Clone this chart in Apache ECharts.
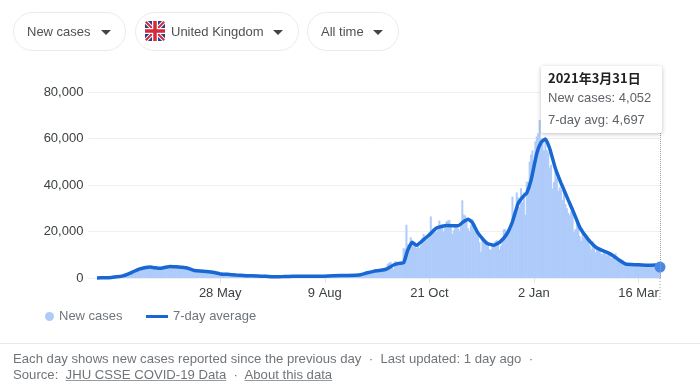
<!DOCTYPE html>
<html>
<head>
<meta charset="utf-8">
<title>New cases - United Kingdom</title>
<script src="https://cdn.jsdelivr.net/npm/echarts@6/dist/echarts.min.js"></script>
<style>
html, body { margin: 0; padding: 0; background: #fff; }
body { width: 700px; height: 389px; position: relative; overflow: hidden; font-family: "Liberation Sans", Arial, sans-serif; }
#chart { position: absolute; left: 0; top: 0; width: 700px; height: 389px; }
.pill { position: absolute; top: 12px; height: 37px; line-height: 37px; border: 1px solid #e8eaed; border-radius: 20px; font-size: 13px; color: #4d5156; box-sizing: content-box; }
.pill span { position: absolute; top: 0; white-space: nowrap; }
.pill i { position: absolute; top: 17px; width: 0; height: 0; border-left: 5px solid transparent; border-right: 5px solid transparent; border-top: 5px solid #444; }
.pill svg { position: absolute; left: 9px; top: 8px; border-radius: 3px; }
#footer { position: absolute; left: 0; top: 343px; width: 700px; border-top: 1px solid #e8eaed; font-size: 13.15px; color: #70757a; line-height: 16px; padding: 7px 0 0 13px; box-sizing: border-box; white-space: nowrap; }
#footer u { color: #70757a; text-decoration-color: #999; }
</style>
</head>
<body>
<div id="chart"></div>
<div class="pill" style="left:13px;width:111px"><span style="left:13px">New cases</span><i style="left:87px"></i></div>
<div class="pill" style="left:135px;width:162px">
	<svg width="20" height="20" viewBox="0 0 40 40">
		<rect width="40" height="40" fill="#27408b"/>
		<path d="M0 0L40 40M40 0L0 40" stroke="#fff" stroke-width="8"/>
		<path d="M0 0L40 40M40 0L0 40" stroke="#d8283c" stroke-width="4"/>
		<path d="M20 0V40M0 20H40" stroke="#fff" stroke-width="12"/>
		<path d="M20 0V40M0 20H40" stroke="#d8283c" stroke-width="7"/>
	</svg>
	<span style="left:35px">United Kingdom</span><i style="left:137px"></i>
</div>
<div class="pill" style="left:307px;width:90px"><span style="left:13px">All time</span><i style="left:65px"></i></div>
<div id="footer">Each day shows new cases reported since the previous day &nbsp;·&nbsp; Last updated: 1 day ago &nbsp;·<br>Source: &nbsp;<u>JHU CSSE COVID-19 Data</u> &nbsp;·&nbsp; <u>About this data</u></div>
<script>
// day 0 is 3 Mar 2020, day 393 is 31 Mar 2021
var tickDays = [86, 159, 232, 305, 378];
var tickLabels = ['28 May', '9 Aug', '21 Oct', '2 Jan', '16 Mar'];
var yTicks = [0, 20000, 40000, 60000, 80000];

var newCases = [
	12, 36, 29, 48, 46, 47, 65, 50, 53, 134,
	208, 342, 251, 152, 407, 676, 643, 714, 900, 665,
	967, 1200, 1400, 1700, 2100, 2300, 2500, 2700, 3000, 3400,
	3800, 4000, 4100, 4400, 4300, 4200, 4600, 4500, 4700, 4600,
	4300, 4000, 4300, 4100, 4000, 4200, 4400, 4100, 4300, 4500,
	4600, 4800, 4700, 4500, 4500, 4400, 4300, 4600, 4500, 4300,
	4200, 4000, 4100, 4200, 4000, 3700, 3400, 3200, 3100, 3000,
	2900, 2900, 2950, 2900, 2900, 2600, 2700, 2800, 2400, 2400,
	2500, 2400, 2200, 1600, 1700, 1800, 1700, 1800, 1800, 1600,
	1450, 1500, 1500, 1400, 1400, 1350, 1250, 1150, 1300, 1000,
	1100, 1200, 1150, 1100, 950, 1000, 1000, 1000, 950, 950,
	850, 850, 900, 850, 800, 650, 750, 800, 700, 650,
	600, 500, 500, 550, 480, 350, 520, 600, 500, 600,
	650, 530, 598, 538, 401, 687, 463, 668, 642, 720,
	720, 687, 700, 580, 445, 560, 700, 720, 760, 760,
	743, 758, 714, 638, 871, 950, 846, 758, 1000, 816,
	1050, 670, 1009, 950, 1050, 1040, 713, 1089, 1100, 812,
	1033, 1041, 1150, 1250, 1250, 1184, 1276, 1048, 1300, 1295,
	1100, 1300, 1400, 1500, 1500, 1700, 2100, 2000, 2200, 2600,
	2900, 3000, 2700, 2600, 3100, 3400, 3300, 3600, 3700, 3500,
	4400, 4300, 4900, 6100, 6600, 6900, 5600, 4000, 7100, 7100,
	6900, 6900, 7100, 6900, 12800, 12600, 22900, 14500, 14100, 17500,
	13900, 15100, 13900, 12900, 13800, 13000, 14100, 17200, 18900, 17200,
	16200, 16900, 19700, 26500, 21300, 20500, 21000, 19700, 20900, 24700,
	23000, 22900, 20000, 22800, 24400, 24700, 25000, 21900, 18900, 20500,
	22900, 22800, 21300, 20400, 22900, 33400, 27300, 26900, 24900, 21400,
	20200, 22900, 25300, 22900, 20300, 20200, 18700, 15400, 11300, 17600,
	16000, 14900, 16000, 14700, 12300, 12200, 13400, 14000, 15800, 16300,
	14900, 12300, 14000, 16600, 20900, 21000, 20100, 18400, 20000, 21000,
	35000, 27000, 28500, 36800, 34700, 30500, 38600, 32700, 36800, 27200,
	41400, 41400, 50000, 53100, 54900, 50500, 58800, 60900, 62300, 68000,
	60000, 59900, 54900, 59000, 55000, 54000, 47500, 48700, 38500, 41300,
	46000, 43000, 37500, 39000, 37900, 33500, 38600, 31800, 30000, 28000,
	27000, 28700, 29000, 20000, 21000, 23500, 22000, 18000, 16000, 19500,
	17500, 19100, 18000, 15800, 14000, 12300, 15800, 13500, 11000, 12700,
	13500, 12000, 10500, 10300, 10900, 10400, 9700, 11000, 9800, 8500,
	8700, 9900, 10600, 9300, 7400, 7500, 7800, 7600, 6400, 5400,
	5700, 5600, 6000, 6100, 5500, 5200, 5900, 5800, 5500, 5100,
	6000, 5700, 5300, 4800, 5400, 6000, 5800, 5600, 5300, 4900,
	5400, 4700, 4600, 4052
];

// 7-day average at the days where it bends
var avgDays = [
	0, 6, 10, 14, 18, 22, 26, 30, 34, 37, 40, 44, 47, 51, 55, 59, 63, 68, 74, 81,
	86, 91, 97, 104, 112, 118, 123, 130, 137, 144, 151, 158, 165, 175, 184, 188, 193, 198, 202, 207,
	211, 214, 217, 220, 223, 228, 232, 237, 244, 252, 256, 259, 262, 266, 272, 277, 281, 286, 290, 294,
	298, 300, 303, 307, 310, 313, 316, 320, 324, 329, 333, 337, 343, 349, 358, 364, 369, 377, 384, 390, 393
];
var avgValues = [
	50, 130, 250, 500, 900, 1800, 2900, 3900, 4500, 4720, 4450, 4150, 4500, 4950, 4800, 4600, 4300, 3200, 2950, 2450,
	1750, 1570, 1300, 1000, 850, 700, 520, 600, 715, 720, 720, 800, 1000, 1100, 1430, 2145, 2860, 3300, 3860, 5600,
	6300, 6500, 12100, 15400, 14100, 16500, 18600, 21500, 22600, 22450, 24300, 25300, 23900, 19300, 15000, 14100, 15300, 18800, 24200, 32100,
	35400, 36500, 42100, 53600, 58300, 59800, 55700, 47100, 40700, 33500, 27800, 21800, 16500, 12900, 10500, 7900, 6000, 5700, 5450, 5600, 4697
];

var lastDay = avgDays.length - 1;
var barData = newCases.map(function (v, i) {
	return [i, v];
});
var lineData = avgDays.map(function (d, i) {
	return [d, avgValues[i]];
});
lineData[lastDay] = {
	value: lineData[lastDay],
	symbol: 'circle',
	symbolSize: 10,
	itemStyle: { color: '#4a86e8' }
};

var myChart = echarts.init(document.getElementById('chart'));
myChart.setOption({
	animation: false,
	textStyle: { fontFamily: '"Liberation Sans", Arial, sans-serif' },
	grid: { left: 88.4, right: 40, top: 92, bottom: 111 },
	legend: [{
		data: [{ name: 'New cases', icon: 'circle' }],
		left: 45,
		top: 310,
		padding: 0,
		itemWidth: 9,
		itemHeight: 9,
		selectedMode: false,
		textStyle: { color: '#70757a', fontSize: 13 }
	}, {
		data: [{ name: '7-day average', icon: 'rect' }],
		left: 146,
		top: 310,
		padding: 0,
		itemWidth: 22,
		itemHeight: 3,
		selectedMode: false,
		textStyle: { color: '#70757a', fontSize: 13 }
	}],
	tooltip: {
		trigger: 'axis',
		alwaysShowContent: true,
		transitionDuration: 0,
		position: [541, 66],
		padding: [3, 7, 5, 7],
		borderWidth: 0,
		backgroundColor: '#fff',
		extraCssText: 'box-shadow:0 1px 4px rgba(0,0,0,.25);border-radius:2px;width:107px;height:59px;box-sizing:content-box;',
		axisPointer: {
			type: 'line',
			animation: false,
			lineStyle: { color: '#9aa0a6', type: 'dotted', width: 1 }
		},
		formatter: function () {
			return '<div style="font:bold 13px \'Noto Sans CJK SC\',\'Liberation Sans\',sans-serif;color:#202124;line-height:17px">2021年3月31日</div>' +
				'<div style="font-size:13px;color:#5f6368;line-height:22px;margin-top:1px">New cases: 4,052</div>' +
				'<div style="font-size:13px;color:#5f6368;line-height:22px">7-day avg: 4,697</div>';
		}
	},
	xAxis: {
		type: 'value',
		min: -6,
		max: 393,
		splitLine: { show: false },
		axisLine: { show: false },
		axisTick: { show: true, customValues: tickDays, length: 5, lineStyle: { color: '#e4e4e4' } },
		axisLabel: {
			customValues: tickDays,
			margin: 9,
			fontSize: 13,
			color: '#3c4043',
			hideOverlap: false,
			showMinLabel: true,
			showMaxLabel: true,
			formatter: function (value) {
				return tickLabels[tickDays.indexOf(value)];
			}
		}
	},
	yAxis: {
		type: 'value',
		min: 0,
		max: 80000,
		interval: 20000,
		axisLine: { show: false },
		axisTick: { show: false },
		splitLine: { lineStyle: { color: '#efefef', width: 1 } },
		axisLabel: {
			margin: 5,
			fontSize: 13,
			color: '#3c4043',
			formatter: function (value) {
				return value === 0 ? '0' : String(value).replace(/\B(?=(\d{3})+$)/g, ',');
			}
		}
	},
	series: [{
		name: 'New cases',
		type: 'bar',
		data: barData,
		barWidth: 2,
		itemStyle: { color: '#aecbfa' },
		emphasis: { disabled: true },
		silent: true
	}, {
		name: '7-day average',
		type: 'line',
		data: lineData,
		symbol: 'none',
		showSymbol: true,
		showAllSymbol: true,
		smooth: 0.15,
		clip: false,
		lineStyle: { color: '#1967d2', width: 3.5 },
		itemStyle: { color: '#1967d2' },
		emphasis: { disabled: true },
		z: 5
	}]
});
myChart.dispatchAction({ type: 'showTip', seriesIndex: 1, dataIndex: lastDay });

// the hover line runs on below the axis, past the tick labels
var hoverFrom = myChart.convertToPixel({ xAxisIndex: 0, yAxisIndex: 0 }, [393, 0]);
myChart.setOption({
	graphic: [{
		type: 'line',
		silent: true,
		shape: { x1: hoverFrom[0], y1: hoverFrom[1], x2: hoverFrom[0], y2: hoverFrom[1] + 24 },
		style: { stroke: '#9aa0a6', lineWidth: 1, lineDash: [1, 2] }
	}]
});
</script>
</body>
</html>
